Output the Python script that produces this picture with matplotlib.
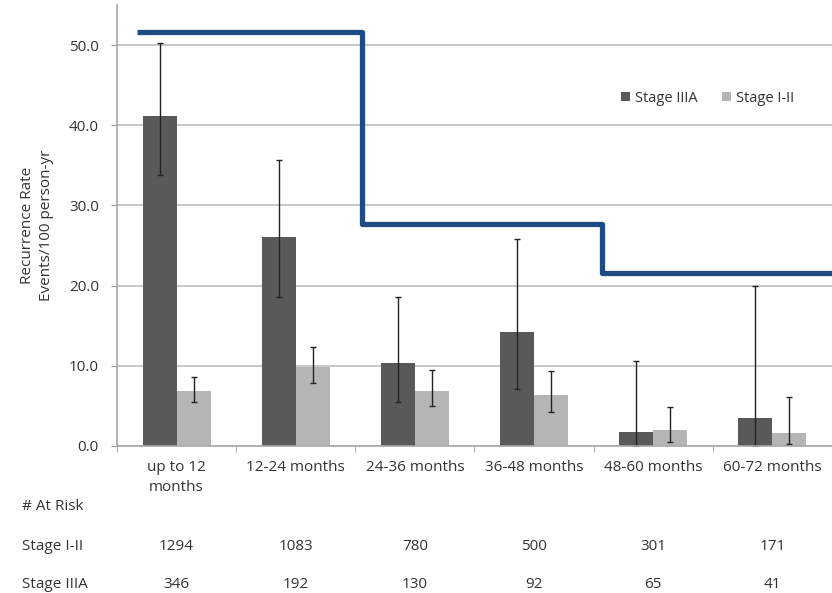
import matplotlib
matplotlib.use("Agg")
import matplotlib.pyplot as plt
import numpy as np

plt.rcParams["font.family"] = ["Open Sans", "DejaVu Sans"]

# recurrence rate per 100 person-years by follow-up interval
periods = ["up to 12\nmonths", "12-24 months", "24-36 months",
           "36-48 months", "48-60 months", "60-72 months"]
stage3a_rate = [41.1, 26.1, 10.4, 14.2, 1.8, 3.5]
stage3a_low = [33.8, 18.6, 5.5, 7.1, 0.0, 0.0]
stage3a_high = [50.2, 35.7, 18.6, 25.8, 10.6, 20.0]
stage12_rate = [6.9, 9.9, 6.9, 6.3, 2.0, 1.6]
stage12_low = [5.5, 7.9, 5.0, 4.2, 0.5, 0.2]
stage12_high = [8.6, 12.3, 9.5, 9.4, 4.9, 6.1]

# numbers at risk
risk_12 = [1294, 1083, 780, 500, 301, 171]
risk_3a = [346, 192, 130, 92, 65, 41]

# overlay step line (breakpoints on the category axis)
step_x = [-0.33, 1.56, 3.57, 5.6]
step_y = [51.6, 27.7, 21.6]

DARK = "#595959"
LIGHT = "#b5b5b5"
TEXT = "#333333"
GRID = "#bdbdbd"
FS = 11

fig = plt.figure(figsize=(8.32, 5.93), dpi=100)
ax = fig.add_axes([0.1406, 0.2479, 0.8594, 0.7437])

x = np.arange(len(periods))
w = 0.285

err3a = [np.array(stage3a_rate) - np.array(stage3a_low),
         np.array(stage3a_high) - np.array(stage3a_rate)]
err12 = [np.array(stage12_rate) - np.array(stage12_low),
         np.array(stage12_high) - np.array(stage12_rate)]
ekw = dict(ecolor="#222222", elinewidth=1.0, capsize=2.2, capthick=1.0)

ax.bar(x - w / 2, stage3a_rate, width=w, color=DARK, label="Stage IIIA",
       yerr=err3a, error_kw=ekw, zorder=2)
ax.bar(x + w / 2, stage12_rate, width=w, color=LIGHT, label="Stage I-II",
       yerr=err12, error_kw=ekw, zorder=2)

# blue step overlay
sx = np.repeat(step_x, 2)[1:-1]
sy = np.repeat(step_y, 2)
ax.plot(sx, sy, color="#1f4b84", linewidth=3.8, solid_joinstyle="round",
        solid_capstyle="butt", zorder=4, clip_on=False)

ax.set_xlim(-0.5, 5.5)
ax.set_ylim(0, 55)
ax.set_yticks(np.arange(0, 51, 10))
ax.set_yticklabels([f"{v:.1f}" for v in np.arange(0, 51, 10)])
ax.yaxis.grid(True, color=GRID, linewidth=1.2, zorder=0)
ax.set_axisbelow(True)

ax.set_xticks(x)
ax.set_xticklabels(periods, linespacing=1.45)
ax.set_xticks(np.arange(-0.5, 5.6, 1.0), minor=True)
ax.tick_params(axis="x", which="major", length=0, pad=10, labelsize=FS, labelcolor=TEXT)
ax.tick_params(axis="x", which="minor", length=4, color="#9a9a9a", direction="out")
ax.tick_params(axis="y", length=4, color="#9a9a9a", labelsize=FS, labelcolor=TEXT, pad=9)

for side in ["top", "right"]:
    ax.spines[side].set_visible(False)
for side in ["left", "bottom"]:
    ax.spines[side].set_color("#a8a8a8")
    ax.spines[side].set_linewidth(1.2)

ax.set_ylabel("Recurrence Rate\nEvents/100 person-yr", fontsize=FS, color=TEXT,
              labelpad=11, linespacing=1.3)

leg = ax.legend(loc="center", bbox_to_anchor=(0.826, 0.789), ncol=2, frameon=False,
                handlelength=0.6, handleheight=0.6, handletextpad=0.35,
                columnspacing=1.7, fontsize=10.5)
for t in leg.get_texts():
    t.set_color(TEXT)

# at-risk table under the axis
tr = ax.get_xaxis_transform()
row_x = -0.5 - 95 / 119
for label, yy in [("# At Risk", -0.138), ("Stage I-II", -0.227), ("Stage IIIA", -0.313)]:
    ax.text(row_x, yy, label, transform=tr, ha="left", va="center",
            fontsize=FS, color=TEXT, clip_on=False)
for i in range(len(periods)):
    ax.text(x[i], -0.227, str(risk_12[i]), transform=tr, ha="center", va="center",
            fontsize=FS, color=TEXT, clip_on=False)
    ax.text(x[i], -0.313, str(risk_3a[i]), transform=tr, ha="center", va="center",
            fontsize=FS, color=TEXT, clip_on=False)

fig.savefig("out.png", dpi=100, facecolor="white")
